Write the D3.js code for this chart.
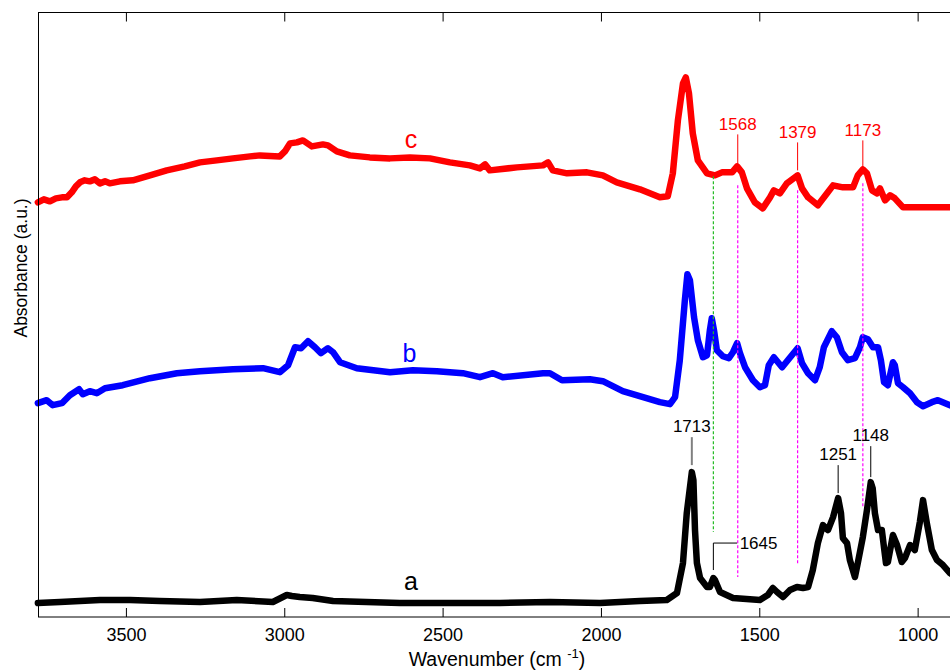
<!DOCTYPE html>
<html>
<head>
<meta charset="utf-8">
<script src="https://cdn.jsdelivr.net/npm/d3@7"></script>
<style>
    body { margin: 0; background: #fff; }
    svg text { font-family: "Liberation Sans", Arial, sans-serif; }
</style>
</head>
<body>
<div id="main"></div>
<script>
// spectrum c (red)
var waveC = [3778, 3759, 3740, 3721, 3702, 3686, 3671, 3658, 3645, 3630, 3614, 3598, 3582, 3566, 3551, 3519, 3478, 3424, 3371, 3314,
    3266, 3213, 3162, 3108, 3077, 3014, 2998, 2982, 2960, 2941, 2913, 2878, 2862, 2834, 2793, 2730, 2666, 2603, 2540, 2477,
    2414, 2382, 2366, 2351, 2265, 2183, 2167, 2152, 2107, 2044, 1994, 1950, 1877, 1814, 1789, 1773, 1757, 1741, 1732, 1722,
    1710, 1694, 1665, 1640, 1618, 1586, 1570, 1555, 1539, 1514, 1489, 1466, 1454, 1435, 1413, 1379, 1365, 1346, 1315, 1286,
    1267, 1236, 1204, 1189, 1173, 1160, 1144, 1128, 1119, 1103, 1087, 1072, 1046, 1015, 952, 898, 880];
var absC = [4.15, 4.18, 4.16, 4.19, 4.20, 4.20, 4.25, 4.31, 4.35, 4.37, 4.36, 4.38, 4.34, 4.36, 4.34, 4.36, 4.37, 4.42, 4.47, 4.51,
    4.55, 4.57, 4.59, 4.61, 4.62, 4.61, 4.66, 4.74, 4.75, 4.77, 4.71, 4.73, 4.72, 4.66, 4.62, 4.60, 4.59, 4.60, 4.59, 4.55,
    4.52, 4.49, 4.53, 4.47, 4.50, 4.52, 4.55, 4.47, 4.44, 4.45, 4.42, 4.35, 4.28, 4.20, 4.21, 4.44, 4.97, 5.34, 5.40, 5.24,
    4.84, 4.57, 4.44, 4.42, 4.45, 4.45, 4.51, 4.45, 4.29, 4.15, 4.09, 4.20, 4.27, 4.24, 4.34, 4.42, 4.29, 4.20, 4.12, 4.24,
    4.32, 4.30, 4.30, 4.42, 4.48, 4.44, 4.27, 4.24, 4.29, 4.17, 4.22, 4.19, 4.10, 4.10, 4.10, 4.10, 4.10];

// spectrum b (blue)
var waveB = [3778, 3750, 3731, 3702, 3677, 3648, 3636, 3614, 3592, 3566, 3510, 3424, 3339, 3266, 3162, 3067, 3014, 2988, 2966, 2947,
    2925, 2903, 2884, 2862, 2846, 2824, 2771, 2666, 2594, 2518, 2436, 2382, 2341, 2310, 2183, 2161, 2123, 2035, 1994, 1931,
    1867, 1814, 1782, 1766, 1751, 1735, 1727, 1719, 1706, 1694, 1678, 1665, 1656, 1650, 1643, 1634, 1615, 1596, 1583, 1570,
    1561, 1545, 1520, 1498, 1482, 1470, 1454, 1428, 1410, 1379, 1365, 1346, 1324, 1309, 1296, 1271, 1255, 1239, 1220, 1198,
    1182, 1173, 1157, 1141, 1125, 1116, 1106, 1094, 1078, 1072, 1062, 1046, 1024, 1002, 983, 955, 936, 898, 880];
var absB = [2.14, 2.17, 2.12, 2.14, 2.22, 2.28, 2.23, 2.26, 2.24, 2.29, 2.32, 2.39, 2.44, 2.46, 2.48, 2.49, 2.45, 2.52, 2.70, 2.69,
    2.76, 2.70, 2.64, 2.69, 2.65, 2.55, 2.49, 2.45, 2.47, 2.46, 2.44, 2.40, 2.44, 2.40, 2.44, 2.44, 2.37, 2.38, 2.36, 2.26,
    2.20, 2.15, 2.13, 2.20, 2.57, 3.17, 3.43, 3.37, 3.00, 2.77, 2.60, 2.62, 2.87, 2.99, 2.87, 2.67, 2.61, 2.59, 2.65, 2.74,
    2.64, 2.50, 2.37, 2.30, 2.32, 2.52, 2.60, 2.50, 2.57, 2.69, 2.54, 2.44, 2.37, 2.50, 2.70, 2.86, 2.80, 2.65, 2.57, 2.59,
    2.70, 2.80, 2.78, 2.70, 2.70, 2.57, 2.35, 2.32, 2.55, 2.52, 2.34, 2.30, 2.24, 2.15, 2.11, 2.15, 2.17, 2.12, 2.10];

// spectrum a (black)
var waveA = [3778, 3708, 3582, 3487, 3393, 3266, 3150, 3036, 2992, 2976, 2951, 2910, 2846, 2635, 2319, 2161, 2003, 1877, 1792, 1760,
    1741, 1729, 1713, 1708, 1703, 1697, 1687, 1665, 1656, 1645, 1640, 1624, 1583, 1498, 1473, 1457, 1444, 1425, 1403, 1381,
    1362, 1346, 1331, 1315, 1299, 1283, 1267, 1251, 1242, 1236, 1223, 1214, 1198, 1189, 1173, 1160, 1148, 1142, 1135, 1125,
    1113, 1100, 1094, 1078, 1065, 1050, 1040, 1024, 1009, 993, 983, 971, 955, 939, 920, 898, 880];
var absA = [0.14, 0.15, 0.17, 0.17, 0.16, 0.15, 0.17, 0.15, 0.22, 0.21, 0.20, 0.19, 0.16, 0.14, 0.14, 0.15, 0.14, 0.16, 0.17, 0.24,
    0.54, 1.04, 1.45, 1.37, 0.87, 0.54, 0.39, 0.30, 0.30, 0.39, 0.37, 0.25, 0.19, 0.17, 0.22, 0.29, 0.25, 0.20, 0.27, 0.30,
    0.29, 0.30, 0.47, 0.74, 0.92, 0.87, 1.00, 1.19, 1.04, 0.79, 0.74, 0.57, 0.40, 0.54, 0.80, 1.07, 1.35, 1.29, 1.04, 0.87,
    0.87, 0.54, 0.55, 0.82, 0.72, 0.55, 0.59, 0.72, 0.67, 0.95, 1.17, 0.94, 0.67, 0.57, 0.52, 0.44, 0.40];

var xTicks = [3500, 3000, 2500, 2000, 1500, 1000];

// dashed guide lines: wavenumber, top and bottom in a.u.
var guideWave = [1645, 1568, 1379, 1173];
var guideTop = [4.41, 4.32, 4.27, 4.34];
var guideBottom = [0.85, 0.40, 0.52, 1.10];
var guideColor = ["#22bb22", "#ff00ff", "#ff00ff", "#ff00ff"];

// peak labels for c
var peakC = [1568, 1379, 1173];
var peakCTop = [4.83, 4.75, 4.77];
var peakCBottom = [4.52, 4.47, 4.49];

// peak labels for a
var peakA = [1713, 1251, 1148];
var peakATop = [1.80, 1.52, 1.71];
var peakABottom = [1.52, 1.24, 1.40];

var width = 950,
    height = 670;
var plotLeft = 38.5, plotRight = 955, plotTop = 12.5, plotBottom = 617;

var svg = d3.select("#main").append("svg")
    .attr("width", width)
    .attr("height", height);

var x = d3.scaleLinear().domain([3776, 882]).range([plotLeft, plotRight]);
var y = d3.scaleLinear().domain([0, 6.05]).range([plotBottom, plotTop]);

var line = d3.line()
    .x(function(d) { return x(d[0]); })
    .y(function(d) { return y(d[1]); });

function drawSpectrum(wave, abs, color) {
    svg.append("path")
        .datum(d3.zip(wave, abs))
        .attr("d", line)
        .attr("fill", "none")
        .attr("stroke", color)
        .attr("stroke-width", 6.5)
        .attr("stroke-linejoin", "round")
        .attr("stroke-linecap", "round");
}

drawSpectrum(waveC, absC, "#ff0000");
drawSpectrum(waveB, absB, "#0000ff");
drawSpectrum(waveA, absA, "#000000");

// dashed guides
svg.selectAll(".guide")
    .data(guideWave)
    .enter().append("line")
    .attr("class", "guide")
    .attr("x1", function(d) { return x(d); })
    .attr("x2", function(d) { return x(d); })
    .attr("y1", function(d, i) { return y(guideTop[i]); })
    .attr("y2", function(d, i) { return y(guideBottom[i]); })
    .attr("stroke", function(d, i) { return guideColor[i]; })
    .attr("stroke-width", 1.2)
    .attr("stroke-dasharray", "3,2");

// red peak labels
peakC.forEach(function(p, i) {
    svg.append("line")
        .attr("x1", x(p)).attr("x2", x(p))
        .attr("y1", y(peakCTop[i])).attr("y2", y(peakCBottom[i]))
        .attr("stroke", "#ff0000").attr("stroke-width", 1);
    svg.append("text")
        .attr("x", x(p))
        .attr("y", y(peakCTop[i]) - 4)
        .attr("text-anchor", "middle")
        .style("font-size", "17px")
        .attr("fill", "#ff0000")
        .text(p);
});

// black peak labels
peakA.forEach(function(p, i) {
    svg.append("line")
        .attr("x1", x(p)).attr("x2", x(p))
        .attr("y1", y(peakATop[i])).attr("y2", y(peakABottom[i]))
        .attr("stroke", i == 0 ? "#808080" : "#000")
        .attr("stroke-width", i == 0 ? 2 : 1);
    svg.append("text")
        .attr("x", x(p))
        .attr("y", y(peakATop[i]) - 5)
        .attr("text-anchor", "middle")
        .style("font-size", "17px")
        .attr("fill", "#000")
        .text(p);
});

// 1645 with an elbow leader
var s1645 = 1645;
svg.append("path")
    .attr("d", "M" + x(s1645) + "," + y(0.47) + "V" + y(0.74) + "H" + x(1570))
    .attr("fill", "none")
    .attr("stroke", "#000")
    .attr("stroke-width", 1);
svg.append("text")
    .attr("x", x(1562))
    .attr("y", y(0.74) + 6)
    .style("font-size", "17px")
    .text(s1645);

// curve names
var names = ["c", "b", "a"];
var nameColors = ["#ff0000", "#0000ff", "#000000"];
var nameWave = [2600, 2605, 2600];
var nameAbs = [4.69, 2.55, 0.27];
svg.selectAll(".cname")
    .data(names)
    .enter().append("text")
    .attr("class", "cname")
    .attr("x", function(d, i) { return x(nameWave[i]); })
    .attr("y", function(d, i) { return y(nameAbs[i]); })
    .attr("text-anchor", "middle")
    .attr("fill", function(d, i) { return nameColors[i]; })
    .style("font-size", "25px")
    .text(function(d) { return d; });

// frame
svg.append("rect")
    .attr("x", plotLeft).attr("y", plotTop)
    .attr("width", plotRight - plotLeft).attr("height", plotBottom - plotTop)
    .attr("fill", "none")
    .attr("stroke", "#000")
    .attr("stroke-width", 1);

var xAxis = svg.append("g")
    .attr("transform", "translate(0," + plotBottom + ")")
    .call(d3.axisBottom(x).tickValues(xTicks).tickFormat(d3.format("d"))
        .tickSizeInner(-9).tickSizeOuter(0).tickPadding(11));
xAxis.select(".domain").remove();
xAxis.selectAll("text")
    .style("font-size", "18px")
    .style("font-family", "Liberation Sans, Arial, sans-serif")
    .attr("fill", "#000");

var xAxisTop = svg.append("g")
    .attr("transform", "translate(0," + plotTop + ")")
    .call(d3.axisTop(x).tickValues(xTicks).tickSizeInner(-9).tickSizeOuter(0).tickFormat(""));
xAxisTop.select(".domain").remove();

// axis titles
var xTitle = svg.append("text")
    .attr("x", 497)
    .attr("y", 666)
    .attr("text-anchor", "middle")
    .style("font-size", "19.5px");
xTitle.append("tspan").text("Wavenumber (cm ");
xTitle.append("tspan").attr("dy", -8).style("font-size", "13px").text("-1");
xTitle.append("tspan").attr("dy", 8).text(")");

svg.append("text")
    .attr("transform", "translate(27,268) rotate(-90)")
    .attr("text-anchor", "middle")
    .style("font-size", "17.5px")
    .text("Absorbance (a.u.)");
</script>
</body>
</html>
